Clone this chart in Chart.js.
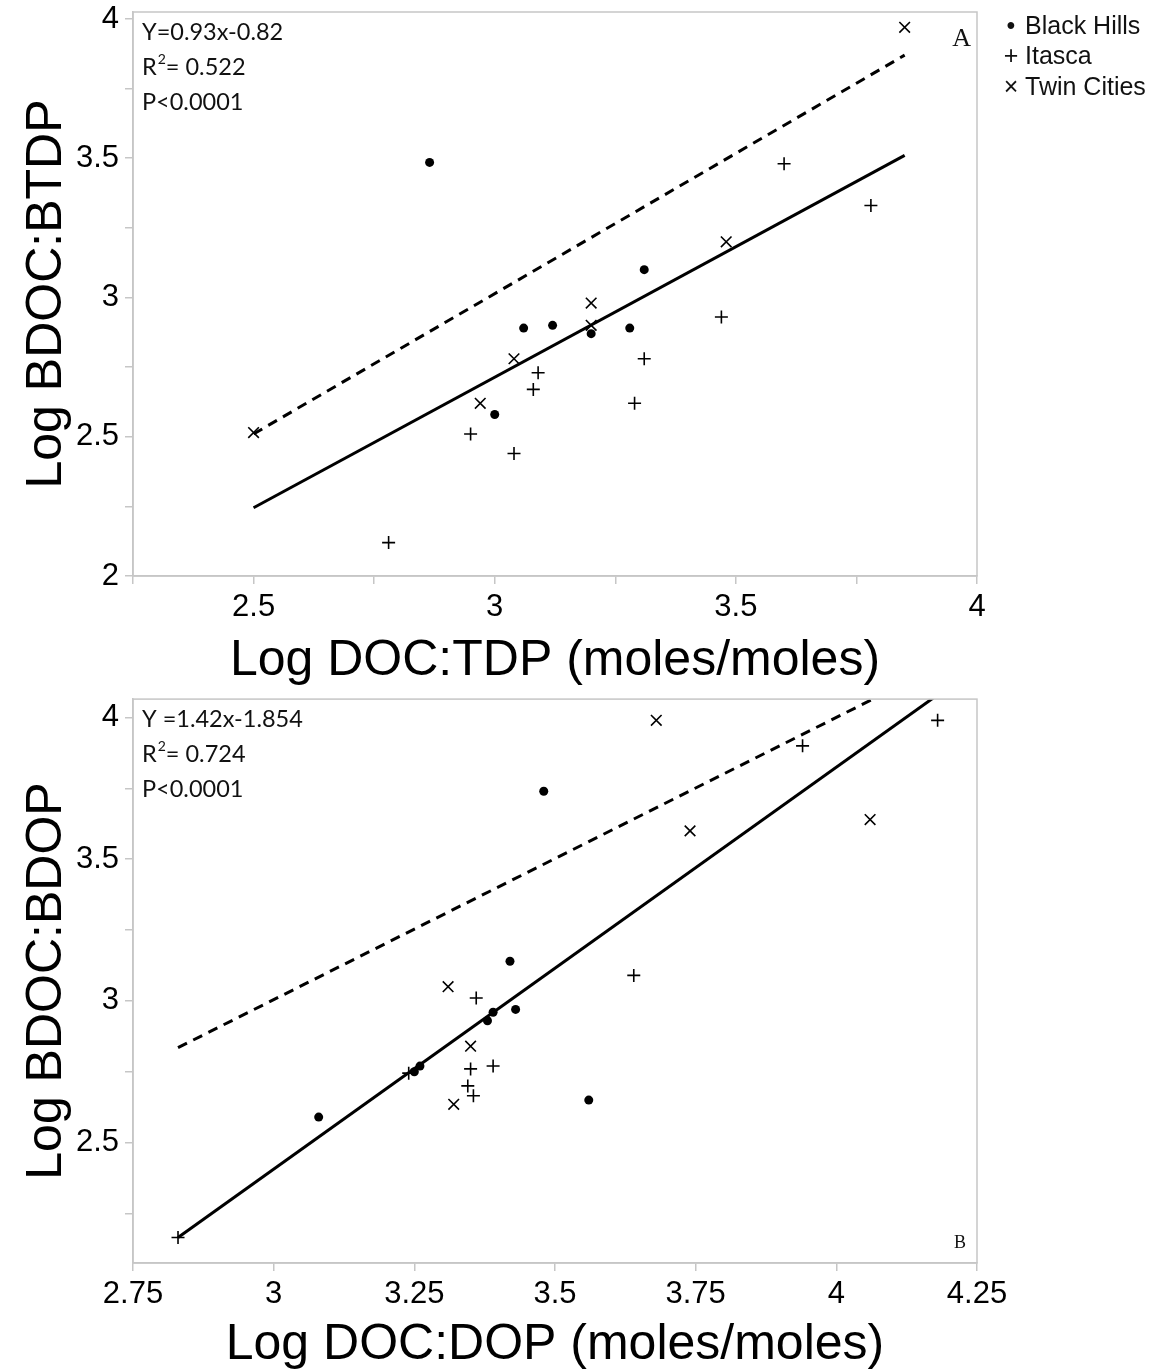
<!DOCTYPE html>
<html>
<head>
<meta charset="utf-8">
<script src="https://cdn.jsdelivr.net/npm/chart.js@4.4.1/dist/chart.umd.min.js"></script>
<style>
body { margin: 0; background: #fff; }
canvas { display: block; }
</style>
</head>
<body>
<canvas id="chartA" width="1165" height="690"></canvas>
<canvas id="chartB" width="1165" height="681"></canvas>
<script>
// Panel A: Log DOC:TDP (x) vs Log BDOC:BTDP (y)
var panelA_blackHills = [[2.865, 3.485], [3.31, 3.10], [3.06, 2.89], [3.12, 2.90], [3.20, 2.87], [3.28, 2.89], [3.00, 2.58]];
var panelA_itasca = [[3.09, 2.73], [3.08, 2.67], [2.95, 2.51], [3.04, 2.44], [3.29, 2.62], [3.31, 2.78], [3.60, 3.48], [3.78, 3.33], [3.47, 2.93], [2.78, 2.12]];
var panelA_twinCities = [[3.20, 2.98], [3.20, 2.90], [3.04, 2.78], [2.97, 2.62], [2.50, 2.515], [3.48, 3.20], [3.85, 3.97]];
var panelA_fit = [[2.5, 2.245], [3.85, 3.51]];
var panelA_oneToOne = [[2.5, 2.51], [3.85, 3.87]];
var panelA_xRange = [2.25, 4];
var panelA_yRange = [2, 4.025];
var panelA_xLabels = [2.5, 3, 3.5, 4];
var panelA_yLabels = [2, 2.5, 3, 3.5, 4];
var panelA_stats = ["Y=0.93x-0.82", "0.522", "P<0.0001"];

// Panel B: Log DOC:DOP (x) vs Log BDOC:BDOP (y)
var panelB_blackHills = [[3.48, 3.74], [3.42, 3.14], [3.43, 2.97], [3.39, 2.96], [3.38, 2.93], [3.56, 2.65], [3.26, 2.77], [3.25, 2.75], [3.08, 2.59]];
var panelB_itasca = [[4.18, 3.99], [3.94, 3.90], [3.64, 3.09], [3.36, 3.01], [3.39, 2.77], [3.35, 2.76], [3.345, 2.70], [3.355, 2.665], [3.24, 2.745], [2.83, 2.165]];
var panelB_twinCities = [[3.68, 3.99], [4.06, 3.64], [3.74, 3.60], [3.31, 3.05], [3.35, 2.84], [3.32, 2.635]];
var panelB_fit = [[2.83, 2.165], [4.18, 4.08]];
var panelB_oneToOne = [[2.83, 2.835], [4.07, 4.07]];
var panelB_xRange = [2.75, 4.25];
var panelB_yRange = [2.075, 4.065];
var panelB_xLabels = [2.75, 3, 3.25, 3.5, 3.75, 4, 4.25];
var panelB_yLabels = [2.5, 3, 3.5, 4];
var panelB_stats = ["Y =1.42x-1.854", "0.724", "P<0.0001"];

var siteNames = ["Black Hills", "Itasca", "Twin Cities"];
var siteGlyphs = ["\u2022", "+", "\u00d7"];

var AXIS_GREY = "#c6c6c6";
Chart.defaults.font.family = "'Liberation Sans', Arial, sans-serif";
Chart.defaults.color = "#000";

function toPoints(arr) {
    return arr.map(function (p) { return { x: p[0], y: p[1] }; });
}

function hasLabel(list, v) {
    for (var i = 0; i < list.length; i++) {
        if (Math.abs(list[i] - v) < 1e-6) return true;
    }
    return false;
}

function makeAxis(range, labels, title, horizontal, size, titlePad) {
    return {
        type: "linear",
        position: horizontal ? "bottom" : "left",
        min: range[0],
        max: range[1],
        ticks: {
            stepSize: 0.25,
            includeBounds: false,
            autoSkip: false,
            maxRotation: 0,
            padding: horizontal ? 5 : 6,
            color: "#000",
            font: { size: 31 },
            callback: function (v) { return hasLabel(labels, v) ? String(v) : ""; }
        },
        grid: { drawOnChartArea: false, drawTicks: true, tickLength: 8, color: AXIS_GREY, lineWidth: 1.5 },
        border: { color: AXIS_GREY, width: 1.5 },
        title: {
            display: true,
            text: title,
            color: "#000",
            font: { size: 50, lineHeight: 1 },
            padding: horizontal ? { top: 0, bottom: titlePad } : { top: titlePad, bottom: 0 }
        },
        afterFit: function (scale) {
            if (horizontal) scale.height = size; else scale.width = size;
            scale.paddingLeft = 0; scale.paddingRight = 0;
            scale.paddingTop = 0; scale.paddingBottom = 0;
        }
    };
}

function buildDatasets(bh, it, tc, fit, oneToOne) {
    return [
        { label: siteNames[0], data: toPoints(bh), pointStyle: "circle", pointRadius: 4.5, backgroundColor: "#000", borderColor: "#000", pointBorderWidth: 0 },
        { label: siteNames[1], data: toPoints(it), pointStyle: "cross", pointRadius: 6.5, backgroundColor: "#000", borderColor: "#000", pointBorderWidth: 1.6 },
        { label: siteNames[2], data: toPoints(tc), pointStyle: "crossRot", pointRadius: 7.5, backgroundColor: "#000", borderColor: "#000", pointBorderWidth: 1.6 },
        { label: "fit", data: toPoints(fit), showLine: true, pointRadius: 0, borderColor: "#000", borderWidth: 3, fill: false },
        { label: "1:1", data: toPoints(oneToOne), showLine: true, pointRadius: 0, borderColor: "#000", borderWidth: 3, borderDash: [10, 7], fill: false }
    ];
}

// box round the plot, the stats text and the panel letter
function panelDecor(stats, letter, letterSize, letterAtTop) {
    return {
        id: "panelDecor",
        afterDraw: function (chart) {
            var ctx = chart.ctx;
            var a = chart.chartArea;
            ctx.save();
            ctx.strokeStyle = AXIS_GREY;
            ctx.lineWidth = 1.5;
            ctx.strokeRect(a.left, a.top, a.right - a.left, a.bottom - a.top);

            ctx.fillStyle = "#111";
            ctx.textBaseline = "middle";
            ctx.textAlign = "left";
            var x = a.left + 9;
            ctx.font = "23.5px Lato, 'Open Sans', sans-serif";
            ctx.fillText(stats[0], x, a.top + 20);
            ctx.fillText("R", x, a.top + 55);
            var rw = ctx.measureText("R").width;
            ctx.font = "14px Lato, 'Open Sans', sans-serif";
            ctx.fillText("2", x + rw + 1, a.top + 47);
            var sw = ctx.measureText("2").width;
            ctx.font = "23.5px Lato, 'Open Sans', sans-serif";
            ctx.fillText("= " + stats[1], x + rw + sw + 1, a.top + 55);
            ctx.fillText(stats[2], x, a.top + 90);

            ctx.font = letterSize + "px 'Liberation Serif', 'Times New Roman', serif";
            ctx.textAlign = "right";
            if (letterAtTop) ctx.fillText(letter, a.right - 6, a.top + 27);
            else ctx.fillText(letter, a.right - 11, a.bottom - 20);
            ctx.restore();
        }
    };
}

var siteLegend = {
    id: "siteLegend",
    afterDraw: function (chart) {
        var ctx = chart.ctx;
        ctx.save();
        ctx.fillStyle = "#111";
        ctx.textBaseline = "middle";
        ctx.font = "25px 'Liberation Sans', Arial, sans-serif";
        for (var i = 0; i < siteNames.length; i++) {
            var y = 27 + i * 30.5;
            ctx.textAlign = "center";
            ctx.fillText(siteGlyphs[i], 1011, y);
            ctx.textAlign = "left";
            ctx.fillText(siteNames[i], 1025, y);
        }
        ctx.restore();
    }
};

function buildPanel(canvasId, cfg) {
    return new Chart(document.getElementById(canvasId), {
        type: "scatter",
        data: { datasets: buildDatasets(cfg.bh, cfg.it, cfg.tc, cfg.fit, cfg.oneToOne) },
        options: {
            responsive: false,
            animation: false,
            events: [],
            layout: { padding: { top: cfg.padTop, right: 188, left: 0, bottom: 0 } },
            plugins: { legend: { display: false }, tooltip: { enabled: false } },
            scales: {
                x: makeAxis(cfg.xRange, cfg.xLabels, cfg.xTitle, true, cfg.xAxisHeight, cfg.xTitlePad),
                y: makeAxis(cfg.yRange, cfg.yLabels, cfg.yTitle, false, 133, 22)
            }
        },
        plugins: cfg.plugins
    });
}

buildPanel("chartA", {
    bh: panelA_blackHills, it: panelA_itasca, tc: panelA_twinCities,
    fit: panelA_fit, oneToOne: panelA_oneToOne,
    xRange: panelA_xRange, yRange: panelA_yRange,
    xLabels: panelA_xLabels, yLabels: panelA_yLabels,
    xTitle: "Log DOC:TDP (moles/moles)", yTitle: "Log BDOC:BTDP",
    padTop: 12, xAxisHeight: 114, xTitlePad: 4,
    plugins: [panelDecor(panelA_stats, "A", 26, true), siteLegend]
});

buildPanel("chartB", {
    bh: panelB_blackHills, it: panelB_itasca, tc: panelB_twinCities,
    fit: panelB_fit, oneToOne: panelB_oneToOne,
    xRange: panelB_xRange, yRange: panelB_yRange,
    xLabels: panelB_xLabels, yLabels: panelB_yLabels,
    xTitle: "Log DOC:DOP (moles/moles)", yTitle: "Log BDOC:BDOP",
    padTop: 9, xAxisHeight: 108, xTitlePad: 1,
    plugins: [panelDecor(panelB_stats, "B", 18, false)]
});
</script>
</body>
</html>
